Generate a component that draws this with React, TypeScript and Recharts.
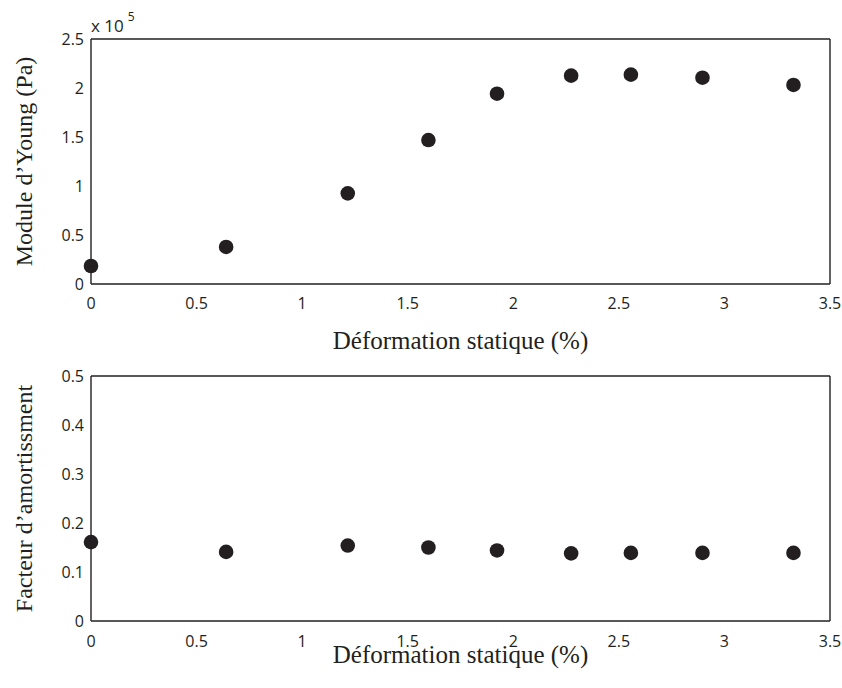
import React from 'react';
import { ScatterChart, Scatter, XAxis, YAxis } from 'recharts';

// Static strain (%)
const strain = [0, 0.64, 1.216, 1.598, 1.923, 2.274, 2.557, 2.896, 3.327];
// Young's modulus (Pa)
const youngModulus = [18400, 37800, 92500, 146900, 194200, 212600, 213600, 210500, 203100];
// Damping factor
const damping = [0.161, 0.141, 0.154, 0.15, 0.144, 0.138, 0.139, 0.139, 0.139];

const xTicks = [0, 0.5, 1, 1.5, 2, 2.5, 3, 3.5];
const youngTicks = [0, 50000, 100000, 150000, 200000, 250000];
const dampingTicks = [0, 0.1, 0.2, 0.3, 0.4, 0.5];

const xTitle = 'Déformation statique (%)';
const youngTitle = 'Module d\u2019Young (Pa)';
const dampingTitle = 'Facteur d\u2019amortissment';

const topData = strain.map((s, i) => ({ x: s, y: youngModulus[i] }));
const bottomData = strain.map((s, i) => ({ x: s, y: damping[i] }));

const INK = '#231f20';
const tickFont = { fontFamily: '"Open Sans", sans-serif', fontSize: 16, fill: INK };
const serif = '"Liberation Serif", "Times New Roman", serif';
const frameLine = { stroke: INK, strokeWidth: 1.4 };
const frameTick = { stroke: '#444', strokeWidth: 1 };

const dot = (props: any) => <circle cx={props.cx} cy={props.cy} r={7.3} fill={INK} />;
const noLabel = () => <g />;

const xTitleRenderer = (dy: number) => (props: any) => {
  const vb = props.viewBox;
  return (
    <text x={vb.x + vb.width / 2} y={vb.y + dy} textAnchor="middle" fontFamily={serif} fontSize={25} fill={INK}>
      {xTitle}
    </text>
  );
};

const yTitleRenderer = (title: string) => (props: any) => {
  const vb = props.viewBox;
  const cx = 32;
  const cy = vb.y + vb.height / 2;
  return (
    <text x={cx} y={cy} transform={`rotate(-90, ${cx}, ${cy})`} textAnchor="middle" fontFamily={serif} fontSize={24} fill={INK}>
      {title}
    </text>
  );
};

const exponentRenderer = (props: any) => {
  const vb = props.viewBox;
  return (
    <text x={vb.x} y={vb.y - 7} fontFamily='"Open Sans", sans-serif' fontSize={17} fill={INK}>
      x 10
      <tspan dx={4} dy={-11} fontSize={12}>5</tspan>
    </text>
  );
};

const fmtX = (v: number) => String(v);
const fmtYoung = (v: number) => String(v / 100000);
const fmtDamp = (v: number) => String(Math.round(v * 10) / 10);

function Panel(props: {
  data: any[];
  yTicks: number[];
  yDomain: [number, number];
  yFmt: (v: number) => string;
  yTitle: string;
  top: number;
  xAxisHeight: number;
  bottomPad: number;
  xTitleDy: number;
  xTickMargin: number;
  exponent?: boolean;
}) {
  const { data, yTicks, yDomain, yFmt, yTitle, top, xAxisHeight, bottomPad, xTitleDy, xTickMargin, exponent } = props;
  const height = top + 245 + xAxisHeight + bottomPad;
  return (
    <ScatterChart width={842} height={height} margin={{ top, right: 12, bottom: bottomPad, left: 0 }}>
      {/* labelled axes (labels only) */}
      <XAxis
        xAxisId="bottom"
        type="number"
        dataKey="x"
        orientation="bottom"
        domain={[0, 3.5]}
        ticks={xTicks}
        interval={0}
        tickFormatter={fmtX}
        height={xAxisHeight}
        axisLine={false}
        tickLine={false}
        tickSize={0}
        tickMargin={xTickMargin}
        tick={tickFont}
        label={xTitleRenderer(xTitleDy)}
      />
      <YAxis
        yAxisId="left"
        type="number"
        dataKey="y"
        orientation="left"
        domain={yDomain}
        ticks={yTicks}
        interval={0}
        tickFormatter={yFmt}
        width={91}
        axisLine={false}
        tickLine={false}
        tickSize={0}
        tickMargin={7}
        tick={tickFont}
        label={yTitleRenderer(yTitle)}
      />
      {/* box frame with inward ticks */}
      <XAxis
        xAxisId="frameBottom"
        type="number"
        dataKey="x"
        orientation="bottom"
        mirror
        domain={[0, 3.5]}
        ticks={xTicks}
        interval={0}
        height={1}
        tickSize={5}
        axisLine={frameLine}
        tickLine={frameTick}
        tick={noLabel}
      />
      <XAxis
        xAxisId="frameTop"
        type="number"
        dataKey="x"
        orientation="top"
        mirror
        domain={[0, 3.5]}
        ticks={xTicks}
        interval={0}
        height={1}
        tickSize={5}
        axisLine={frameLine}
        tickLine={frameTick}
        tick={noLabel}
        label={exponent ? exponentRenderer : undefined}
      />
      <YAxis
        yAxisId="frameLeft"
        type="number"
        dataKey="y"
        orientation="left"
        mirror
        domain={yDomain}
        ticks={yTicks}
        interval={0}
        width={1}
        tickSize={5}
        axisLine={frameLine}
        tickLine={frameTick}
        tick={noLabel}
      />
      <YAxis
        yAxisId="frameRight"
        type="number"
        dataKey="y"
        orientation="right"
        mirror
        domain={yDomain}
        ticks={yTicks}
        interval={0}
        width={1}
        tickSize={5}
        axisLine={frameLine}
        tickLine={frameTick}
        tick={noLabel}
      />
      <Scatter
        data={data}
        xAxisId="bottom"
        yAxisId="left"
        shape={dot}
        isAnimationActive={false}
      />
    </ScatterChart>
  );
}

export default function App() {
  return (
    <div style={{ position: 'absolute', left: 0, top: 0, width: 842, height: 688, background: '#fff' }}>
      <div style={{ position: 'absolute', left: 0, top: 0 }}>
        <Panel
          data={topData}
          yTicks={youngTicks}
          yDomain={[0, 250000]}
          yFmt={fmtYoung}
          yTitle={youngTitle}
          top={39}
          xAxisHeight={60}
          bottomPad={26}
          xTitleDy={65}
          xTickMargin={14}
          exponent
        />
      </div>
      <div style={{ position: 'absolute', left: 0, top: 344 }}>
        <Panel
          data={bottomData}
          yTicks={dampingTicks}
          yDomain={[0, 0.5]}
          yFmt={fmtDamp}
          yTitle={dampingTitle}
          top={32}
          xAxisHeight={67}
          bottomPad={0}
          xTitleDy={42}
          xTickMargin={15}
        />
      </div>
    </div>
  );
}
